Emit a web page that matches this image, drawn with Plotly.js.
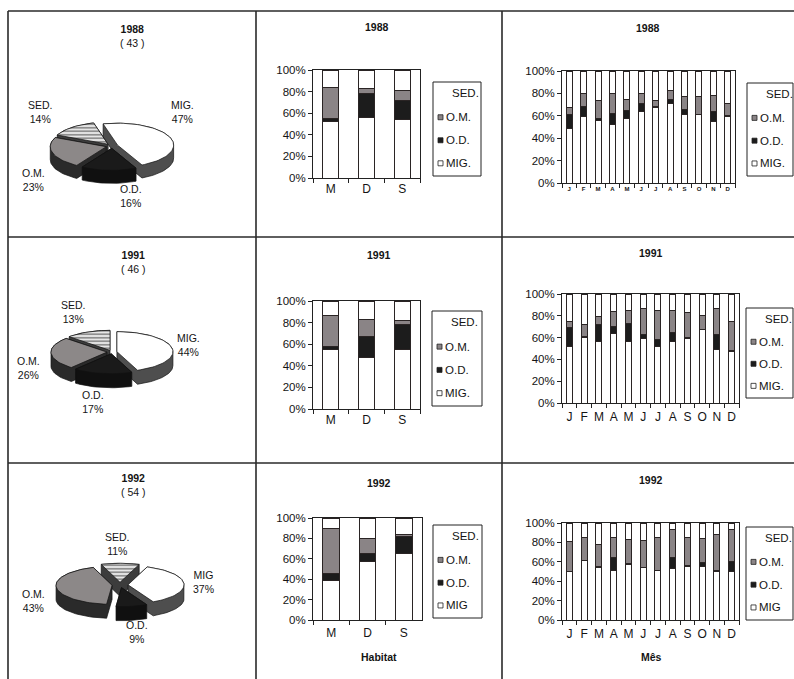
<!DOCTYPE html>
<html><head><meta charset="utf-8">
<script src="https://cdn.plot.ly/plotly-3.0.1.min.js"></script>
<style>html,body{margin:0;padding:0;background:#fff}#chart{width:794px;height:679px}</style>
</head><body><div id="chart"></div>
<script>
// ---------------- DATA ----------------
const years = ['1988', '1991', '1992'];
const sampleSizes = [43, 46, 54];
const habitats = ['M', 'D', 'S'];
const monthNames = ['Jan','Feb','Mar','Apr','May','Jun','Jul','Aug','Sep','Oct','Nov','Dec'];
const monthLabels = ['J','F','M','A','M','J','J','A','S','O','N','D'];
const percentTicks = [0, 20, 40, 60, 80, 100];
const percentTickText = ['0%', '20%', '40%', '60%', '80%', '100%'];

// group labels (order: MIG, O.D., O.M., SED)
const labels1988 = ['MIG.', 'O.D.', 'O.M.', 'SED.'];
const labels1991 = ['MIG.', 'O.D.', 'O.M.', 'SED.'];
const labels1992 = ['MIG', 'O.D.', 'O.M.', 'SED.'];

// pie shares (%)
const pie1988 = [47, 16, 23, 14];
const pie1991 = [44, 17, 26, 13];
const pie1992 = [37, 9, 43, 11];

// habitat stacked shares (%) M, D, S
const habMig1988 = [52, 56, 54];
const habOd1988  = [3, 22, 18];
const habOm1988  = [29, 5, 9];
const habSed1988 = [16, 17, 19];

const habMig1991 = [55, 48, 55];
const habOd1991  = [3, 19, 23];
const habOm1991  = [29, 16, 4];
const habSed1991 = [13, 17, 18];

const habMig1992 = [39, 57, 65];
const habOd1992  = [7, 8, 17];
const habOm1992  = [44, 15, 2];
const habSed1992 = [10, 20, 16];

// monthly stacked shares (%)
const monMig1988 = [49, 59, 56, 52, 58, 64, 67, 71, 61, 61, 55, 59];
const monOd1988  = [12, 9, 2, 10, 7, 7, 1, 4, 5, 0, 9, 1];
const monOm1988  = [6, 12, 16, 18, 10, 9, 6, 8, 11, 16, 14, 11];
const monSed1988 = [33, 20, 26, 20, 25, 20, 26, 17, 23, 23, 22, 29];

const monMig1991 = [52, 60, 56, 64, 56, 59, 52, 56, 59, 67, 49, 47];
const monOd1991  = [17, 1, 16, 6, 17, 4, 6, 9, 1, 0, 14, 1];
const monOm1991  = [6, 11, 7, 14, 12, 24, 27, 20, 23, 13, 24, 27];
const monSed1991 = [25, 28, 21, 16, 15, 13, 15, 15, 17, 20, 13, 25];

const monMig1992 = [50, 61, 54, 51, 57, 54, 51, 53, 55, 55, 50, 50];
const monOd1992  = [0, 0, 1, 13, 1, 0, 0, 11, 1, 4, 1, 10];
const monOm1992  = [31, 24, 23, 21, 25, 28, 34, 29, 29, 25, 37, 33];
const monSed1992 = [19, 15, 22, 15, 17, 18, 15, 7, 15, 16, 12, 7];

// ---------------- LAYOUT HELPERS ----------------
const W = 794, H = 679;
const px = v => v / W;
const py = v => 1 - v / H;
const FONT = '"Liberation Sans", Arial, Helvetica, sans-serif';
const INK = '#141414';

const traces = [];
const annotations = [];
const shapes = [];
const layout = {
  width: W, height: H,
  margin: {l: 0, r: 0, t: 0, b: 0},
  paper_bgcolor: '#ffffff', plot_bgcolor: 'rgba(0,0,0,0)',
  showlegend: false, barmode: 'stack',
  font: {family: FONT, size: 12, color: INK},
  annotations, shapes
};

const barColors = ['#ffffff', '#1c1c1c', '#8a8486', '#ffffff'];

function text(x, y, t, size, opts) {
  annotations.push(Object.assign({
    xref: 'paper', yref: 'paper', x: px(x), y: py(y), text: t, showarrow: false,
    xanchor: 'center', yanchor: 'middle', font: {size: size, color: INK, family: FONT}
  }, opts || {}));
}

function barChart(k, cats, tickText, series, names, box, o) {
  const sfx = k === 1 ? '' : String(k);
  const xa = 'x' + sfx, ya = 'y' + sfx;
  series.forEach((vals, i) => {
    traces.push({
      type: 'bar', x: cats, y: vals, name: names[i], xaxis: xa, yaxis: ya,
      width: o.width,
      marker: {color: barColors[i], line: {color: '#2a2424', width: 1}},
      hovertemplate: '%{x}: %{y}%<extra>' + names[i] + '</extra>'
    });
  });
  layout['xaxis' + sfx] = {
    domain: [px(box[0]), px(box[1])], anchor: ya, type: 'category',
    range: [-0.5, cats.length - 0.5],
    tickmode: 'array', tickvals: cats, ticktext: tickText, tickangle: 0,
    tickson: 'boundaries', ticks: 'outside', ticklen: 4, tickcolor: '#222',
    showline: true, mirror: true, linecolor: '#222', linewidth: 1,
    showgrid: false, zeroline: false, fixedrange: true,
    ticklabelstandoff: o.xstand || 0,
    tickfont: {size: o.xfont, color: INK, family: FONT, weight: o.xweight || 'normal'}
  };
  layout['yaxis' + sfx] = {
    domain: [py(box[3]), py(box[2])], anchor: xa,
    range: [0, 100], tickmode: 'array', tickvals: percentTicks, ticktext: percentTickText,
    ticks: 'outside', ticklen: 4, tickcolor: '#222',
    showline: true, mirror: true, linecolor: '#222', linewidth: 1,
    showgrid: false, zeroline: false, fixedrange: true,
    tickfont: {size: 11.5, color: INK, family: FONT}
  };
}

function legendBox(b, names) {
  const [x0, y0, x1, y1] = b;
  shapes.push({type: 'rect', xref: 'paper', yref: 'paper', x0: px(x0), x1: px(x1), y0: py(y1), y1: py(y0),
    line: {color: '#222', width: 1}, fillcolor: '#ffffff', layer: 'above'});
  const h = y1 - y0;
  const fr = [0.12, 0.375, 0.62, 0.865];
  [3, 2, 1, 0].forEach((si, j) => {
    const yc = y0 + fr[j] * h;
    if (si !== 3) {
      shapes.push({type: 'rect', xref: 'paper', yref: 'paper',
        x0: px(x0 + 5), x1: px(x0 + 10), y0: py(yc + 2.5), y1: py(yc - 2.5),
        line: {color: '#222', width: 0.8}, fillcolor: barColors[si], layer: 'above'});
    }
    text(si === 3 ? x0 + 17 : x0 + 11, yc, names[si], 11.5, {xanchor: 'left'});
  });
}

// ---------------- 3-D PIE (drawn on a pixel-scaled hidden axis) ----------------
layout.xaxis7 = {domain: [0, 1], range: [0, W], visible: false, fixedrange: true, anchor: 'y7'};
layout.yaxis7 = {domain: [0, 1], range: [H, 0], visible: false, fixedrange: true, anchor: 'x7'};

const pieTop = ['#ffffff', '#1a1a1a', '#8c8888', '#e2e2e2'];
const pieSide = ['#4e4e4e', '#101010', '#2a2a2a', '#3c3c3c'];

function hull(points) {
  const p = points.slice().sort((a, b) => a[0] - b[0] || a[1] - b[1]);
  const cross = (o, a, b) => (a[0] - o[0]) * (b[1] - o[1]) - (a[1] - o[1]) * (b[0] - o[0]);
  const lower = [], upper = [];
  for (const q of p) { while (lower.length >= 2 && cross(lower[lower.length - 2], lower[lower.length - 1], q) <= 0) lower.pop(); lower.push(q); }
  for (let i = p.length - 1; i >= 0; i--) { const q = p[i]; while (upper.length >= 2 && cross(upper[upper.length - 2], upper[upper.length - 1], q) <= 0) upper.pop(); upper.push(q); }
  upper.pop(); lower.pop();
  return lower.concat(upper);
}

function pie3d(vals, names, g) {
  const total = vals.reduce((a, b) => a + b, 0);
  const rad = d => d * Math.PI / 180;
  let a = g.rot;
  const sl = [];
  vals.forEach((v, i) => { const a1 = a + v / total * 360; sl.push({i, a0: a, a1, mid: (a + a1) / 2}); a = a1; });
  sl.sort((p, q) => Math.cos(rad(q.mid)) - Math.cos(rad(p.mid)));
  sl.forEach(s => {
    const ox = g.cx + g.pull * Math.sin(rad(s.mid));
    const oy = g.cy - g.pull * (g.ry / g.rx) * Math.cos(rad(s.mid));
    const pts = [[ox, oy]];
    const n = Math.max(6, Math.ceil((s.a1 - s.a0) / 3));
    for (let j = 0; j <= n; j++) {
      const t = rad(s.a0 + (s.a1 - s.a0) * j / n);
      pts.push([ox + g.rx * Math.sin(t), oy - g.ry * Math.cos(t)]);
    }
    const side = hull(pts.concat(pts.map(p => [p[0], p[1] + g.depth])));
    side.push(side[0]);
    const top = pts.concat([pts[0]]);
    const hov = names[s.i] + ': ' + vals[s.i] + '%<extra></extra>';
    traces.push({type: 'scatter', mode: 'lines', xaxis: 'x7', yaxis: 'y7',
      x: side.map(p => p[0]), y: side.map(p => p[1]), fill: 'toself',
      fillcolor: pieSide[s.i], line: {color: '#111', width: 0.7}, hovertemplate: hov});
    const tt = {type: 'scatter', mode: 'lines', xaxis: 'x7', yaxis: 'y7',
      x: top.map(p => p[0]), y: top.map(p => p[1]), fill: 'toself',
      fillcolor: pieTop[s.i], line: {color: '#111', width: 0.7}, hovertemplate: hov};
    if (s.i === 3) tt.fillpattern = {shape: '-', bgcolor: '#e6e6e6', fgcolor: '#6a6a6a', size: 3.5, solidity: 0.35};
    traces.push(tt);
  });
  names.forEach((nm, i) => text(g.lab[i][0], g.lab[i][1], nm + '<br>' + vals[i] + '%', 10.5));
}

// ---------------- BUILD ----------------
const pieGeo = [
  {cx: 112, cy: 146, rx: 56, ry: 22, depth: 13, pull: 6, rot: -15,
   lab: [[182, 112], [131, 196], [33, 180], [40, 112]], title: [132, 36]},
  {cx: 112, cy: 352, rx: 56, ry: 20, depth: 14, pull: 5, rot: 0,
   lab: [[188, 345], [93, 402], [28, 368], [73, 312]], title: [133, 262]},
  {cx: 120, cy: 585, rx: 56, ry: 19, depth: 14, pull: 8, rot: 20,
   lab: [[203, 582], [137, 632], [33, 601], [117, 544]], title: [133, 485]}
];
const pies = [pie1988, pie1991, pie1992];
const labelSets = [labels1988, labels1991, labels1992];
pies.forEach((v, r) => {
  pie3d(v, labelSets[r], pieGeo[r]);
  text(pieGeo[r].title[0], pieGeo[r].title[1], '<b>' + years[r] + '</b><br>( ' + sampleSizes[r] + ' )', 10.5);
});

const habSeries = [
  [habMig1988, habOd1988, habOm1988, habSed1988],
  [habMig1991, habOd1991, habOm1991, habSed1991],
  [habMig1992, habOd1992, habOm1992, habSed1992]
];
const monSeries = [
  [monMig1988, monOd1988, monOm1988, monSed1988],
  [monMig1991, monOd1991, monOm1991, monSed1991],
  [monMig1992, monOd1992, monOm1992, monSed1992]
];

const habBoxes = [[313, 420, 70, 178], [313, 420, 301, 409], [313, 422, 518, 620]];
const monBoxes = [[562, 735, 71, 183], [562, 739, 294, 403], [562, 739, 523, 620]];
const habLegends = [[433, 82, 481, 176], [432, 311, 482, 406], [433, 525, 482, 618]];
const monLegends = [[747, 83, 793, 176], [746, 308, 793, 398], [746, 527, 793, 620]];
const habTitles = [[377, 27], [379, 255], [379, 483]];
const monTitles = [[648, 28], [651, 253], [651, 480]];

for (let r = 0; r < 3; r++) {
  barChart(1 + r * 2, habitats, habitats, habSeries[r], labelSets[r], habBoxes[r],
    {width: 0.45, xfont: 12, xstand: r === 2 ? 2 : 0});
  barChart(2 + r * 2, monthNames, monthLabels, monSeries[r], labelSets[r], monBoxes[r],
    r === 0 ? {width: 0.42, xfont: 6, xweight: 'bold', xstand: 0} : {width: 0.42, xfont: 12, xstand: 3});
  legendBox(habLegends[r], labelSets[r]);
  legendBox(monLegends[r], labelSets[r]);
  text(habTitles[r][0], habTitles[r][1], '<b>' + years[r] + '</b>', 10.5);
  text(monTitles[r][0], monTitles[r][1], '<b>' + years[r] + '</b>', 10.5);
}
text(379, 657, '<b>Habitat</b>', 10.5);
text(651, 657, '<b>Mês</b>', 10.5);

// cell borders
const lineStyle = {color: '#2a2a2a', width: 1.6};
[[8, 11, 8, 679], [256, 11, 256, 679], [502, 11, 502, 679],
 [8, 11, 794, 11], [8, 237, 794, 237], [8, 463, 794, 463]].forEach(l => {
  shapes.push({type: 'line', xref: 'paper', yref: 'paper', x0: px(l[0]), y0: py(l[1]), x1: px(l[2]), y1: py(l[3]), line: lineStyle});
});

Plotly.newPlot('chart', traces, layout, {displayModeBar: false, responsive: false});
</script>
</body></html>
